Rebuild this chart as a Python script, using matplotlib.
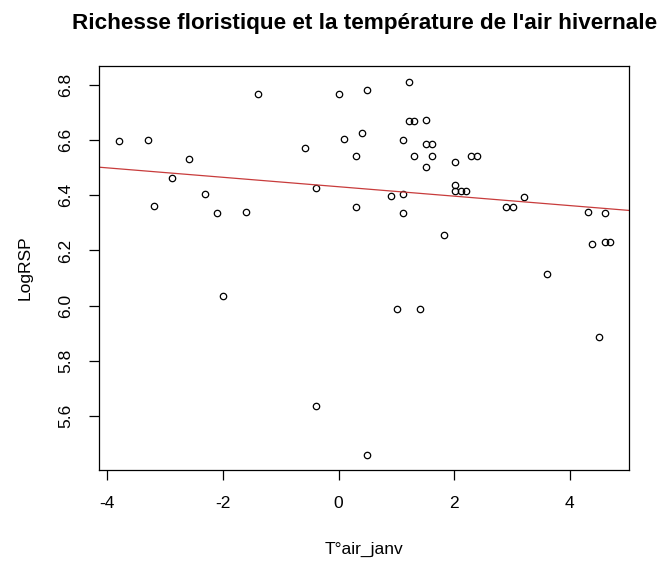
import numpy as np
import matplotlib
matplotlib.use("Agg")
import matplotlib.pyplot as plt

plt.rcParams["font.family"] = ["Liberation Sans", "DejaVu Sans"]

# January air temperature vs log floristic richness
t_air_janv = [-3.79, -3.29, -3.19, -2.88, -2.58, -2.30, -2.10, -1.60, -1.39, -0.58,
              -0.39, 0.00, 0.10, 0.30, 0.30, 0.40, 0.49, -2.00, -0.39, 0.49,
              1.21, 1.21, 1.31, 1.51, 1.11, 1.51, 1.62, 1.31, 1.62, 1.51,
              2.02, 2.29, 2.39, 2.02, 2.02, 2.11, 2.20, 0.91, 1.11, 1.11,
              1.82, 2.90, 3.01, 3.20, 4.31, 4.60, 4.39, 4.60, 4.70, 3.61,
              1.01, 1.41, 4.50]
log_rsp = [6.597, 6.600, 6.360, 6.462, 6.533, 6.403, 6.335, 6.339, 6.766, 6.572,
           6.428, 6.766, 6.605, 6.542, 6.357, 6.627, 6.783, 6.035, 5.637, 5.459,
           6.812, 6.668, 6.668, 6.673, 6.602, 6.586, 6.586, 6.542, 6.542, 6.504,
           6.522, 6.542, 6.542, 6.437, 6.416, 6.416, 6.416, 6.399, 6.403, 6.335,
           6.257, 6.356, 6.356, 6.394, 6.339, 6.335, 6.223, 6.229, 6.229, 6.116,
           5.987, 5.987, 5.888]
x_ticks = [-4, -2, 0, 2, 4]
y_ticks = [5.6, 5.8, 6.0, 6.2, 6.4, 6.6, 6.8]

# regression line LogRSP ~ T°air_janv
fit_intercept = 6.431
fit_slope = -0.0171

x = np.array(t_air_janv)
y = np.array(log_rsp)

fig = plt.figure(figsize=(6.61, 5.63), dpi=100)
ax = fig.add_axes([0.150, 0.165, 0.802, 0.718])

ax.plot(x, y, linestyle="none", marker="o", markersize=4.6,
        markerfacecolor="none", markeredgecolor="black", markeredgewidth=0.9)

xlim = (-4.138, 5.026)
xs = np.array(xlim)
ax.plot(xs, fit_intercept + fit_slope * xs, color="#c83c3c", linewidth=0.9)

ax.set_xlim(*xlim)
ax.set_ylim(5.404, 6.869)
ax.set_xticks(x_ticks)
ax.set_xticklabels([str(v) for v in x_ticks])
ax.set_yticks(y_ticks)
ax.set_yticklabels([f"{v:.1f}" for v in y_ticks], rotation=90, va="center")

for side in ["top", "right", "bottom", "left"]:
    ax.spines[side].set_linewidth(0.9)
ax.tick_params(direction="out", length=7.5, width=0.9, labelsize=12.5,
               colors="black")
ax.tick_params(axis="x", pad=11.5)
ax.tick_params(axis="y", pad=11)

ax.set_xlabel("T°air_janv", fontsize=12.5)
ax.xaxis.set_label_coords(0.5, -0.196)
ax.xaxis.label.set_va("center")
ax.set_ylabel("LogRSP", fontsize=12.5)
ax.yaxis.set_label_coords(-0.140, 0.5)
ax.yaxis.label.set_va("center")

ax.text(0.5, 1.105, "Richesse floristique et la température de l'air hivernale",
        transform=ax.transAxes, ha="center", va="center",
        fontsize=16.2, fontweight="bold")

fig.savefig("out.png", dpi=100)
